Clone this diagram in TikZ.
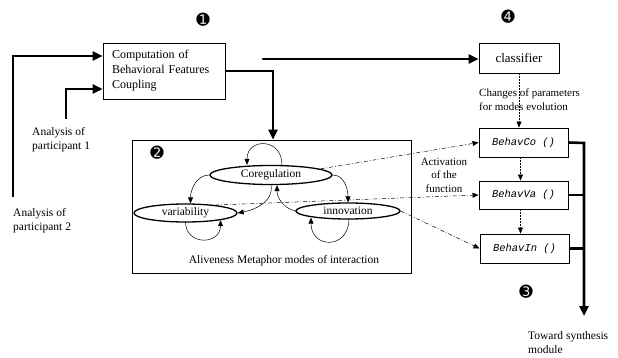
\documentclass[tikz,border=0pt]{standalone}
\usepackage{fontspec}
\setmainfont{Liberation Serif}
\newfontfamily\codefont{Liberation Mono}
\newfontfamily\markfont{DejaVu Sans}
\usetikzlibrary{arrows.meta, shapes.geometric}
\newcommand{\fnname}[1]{{\codefont\itshape #1}}

\begin{document}
\begin{tikzpicture}[x=1pt, y=-1pt,
        box/.style={draw, line width=0.9pt, inner sep=0pt, font=\fontsize{12}{15}\selectfont},
        fnbox/.style={box, minimum width=89pt, minimum height=29pt, font=\fontsize{10.5}{12}\selectfont},
        mode/.style={draw, ellipse, line width=1.3pt, inner sep=0pt, font=\fontsize{11.5}{13}\selectfont},
        lbl/.style={inner sep=0pt, font=\fontsize{11.5}{14}\selectfont},
        badge/.style={inner sep=0pt, font=\markfont\fontsize{16}{16}\selectfont},
        bus/.style={line width=2.6pt},
        busarrow/.style={bus, -{Triangle[length=10pt, width=9pt]}},
        graph/.style={line width=0.5pt, -{Triangle[length=6pt, width=5pt]}},
        ctrl/.style={line width=0.5pt, dash pattern=on 1.5pt off 1.5pt, -{Triangle[length=6pt, width=5pt]}},
        act/.style={line width=0.5pt, dash pattern=on 4pt off 2pt on 0.8pt off 2pt, -{Triangle[length=6pt, width=5pt]}}]
        \useasboundingbox (0,0) rectangle (618,358);

        \node[box, minimum width=122pt, minimum height=56pt, text width=104pt, inner xsep=9pt, align=left] (comp) at (164,71) {Computation of\\Behavioral Features\\Coupling};
        \node[box, minimum width=80pt, minimum height=30pt, font=\fontsize{13}{15}\selectfont] (clf) at (519,58) {classifier};
        \node[draw, line width=0.9pt, minimum width=279pt, minimum height=133pt, inner sep=0pt] (modes) at (271.5,206.5) {};

        \node[mode, minimum width=122pt, minimum height=19pt] (cor) at (271,175) {Coregulation};
        \node[mode, minimum width=103pt, minimum height=18pt] (var) at (185.5,213) {variability};
        \node[mode, minimum width=104pt, minimum height=16pt] (inn) at (348,211) {innovation};
        \node[lbl] (caption) at (284,261) {Aliveness Metaphor modes of interaction};

        \node[fnbox] (co) at (523.5,142.5) {\fnname{BehavCo ()}};
        \node[fnbox, minimum height=28pt] (va) at (523.5,195) {\fnname{BehavVa ()}};
        \node[fnbox] (in) at (524.5,248.5) {\fnname{BehavIn ()}};

        \node[lbl, anchor=west, align=left] (p1) at (32,140) {Analysis of\\participant 1};
        \node[lbl, anchor=west, align=left] (p2) at (13,221) {Analysis of\\participant 2};
        \node[lbl, anchor=west, align=left, font=\fontsize{11}{14}\selectfont] (chg) at (479,100) {Changes of parameters\\for modes evolution};
        \node[lbl, align=center, font=\fontsize{11}{13.5}\selectfont] (actlbl) at (444,175) {Activation\\of the\\function};
        \node[lbl, anchor=west, align=left] (out) at (528,343) {Toward synthesis\\module};

        \node[badge] (m1) at (203,20) {➊};
        \node[badge] (m2) at (157,153) {➋};
        \node[badge] (m3) at (526,292) {➌};
        \node[badge] (m4) at (508,17) {➍};

        \coordinate (p1top) at (66,119);
        \coordinate (p2top) at (13,197);
        \coordinate (feat) at (263,59);
        \coordinate (bustop) at (584,143);
        \coordinate (busend) at (584,316);

        \draw[busarrow] (p2top) |- ([yshift=15pt]comp.west);
        \draw[busarrow] (p1top) |- ([yshift=-18pt]comp.west);
        \draw[busarrow, line cap=round] (feat) -- (clf.west |- feat);
        \draw[busarrow] (comp.east) -| ([xshift=1.5pt]modes.north);
        \draw[busarrow] (co.east) -- (bustop) -- (busend);
        \draw[bus] (va.east) -- (va.east -| bustop);
        \draw[bus] (in.east) -- (in.east -| bustop);

        \draw[ctrl] (clf.south) -- (clf.south |- co.north);
        \draw[ctrl] ([xshift=-3pt]co.south) -- ([xshift=-3pt]co.south |- va.north);
        \draw[ctrl] ([xshift=-3pt]va.south) -- ([xshift=-3pt]va.south |- in.north);

        \draw[act] (cor.7) -- (co.west);
        \draw[act] (var.15.5) -- (va.west);
        \draw[act] (inn.east) -- (in.west);

        \draw[graph] ([xshift=11pt]cor.north) to[out=90, in=90, looseness=2] ([xshift=-24pt]cor.north);
        \draw[graph] ([shift={(0pt,1pt)}]var.south) to[out=-90, in=-90, looseness=1.8] ([shift={(35pt,2.5pt)}]var.south);
        \draw[graph] ([shift={(1pt,1pt)}]inn.south) to[out=-90, in=-90, looseness=2.1] ([shift={(-37pt,2pt)}]inn.south);
        \draw[graph] (cor.west) to[out=180, in=90] ([xshift=5pt]var.north);
        \draw[graph] (cor.south) to[out=-80, in=10] (var.east);
        \draw[graph] ([xshift=-52pt]inn.center) to[out=170, in=-90] ([xshift=6pt]cor.south);
        \draw[graph] (cor.east) to[out=0, in=90] (inn.north);
\end{tikzpicture}
\end{document}
